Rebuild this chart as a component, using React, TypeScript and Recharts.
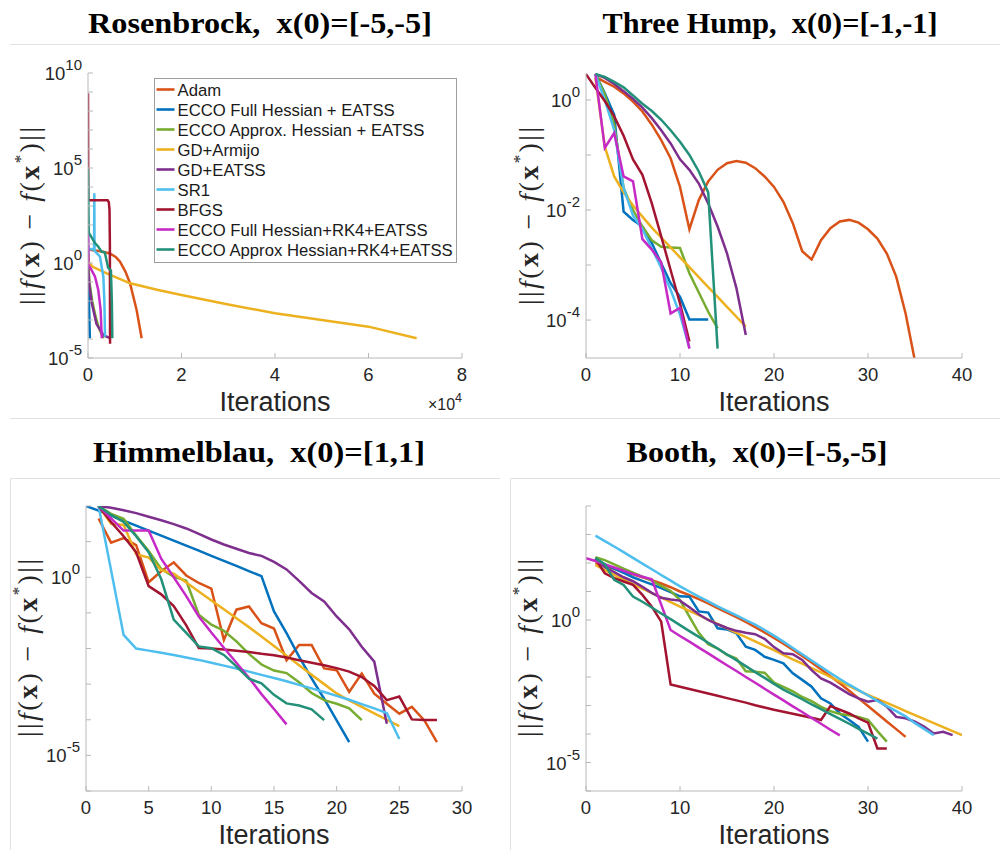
import { LineChart, Line, XAxis, YAxis, Legend } from 'recharts'

const SANS = '"Liberation Sans", Arial, Helvetica, sans-serif'
const SERIF = '"Liberation Serif", "Times New Roman", serif'
const AXIS = '#b8b8b8'
const INK = '#262626'

const methods = [
  'Adam',
  'ECCO Full Hessian + EATSS',
  'ECCO Approx. Hessian + EATSS',
  'GD+Armijo',
  'GD+EATSS',
  'SR1',
  'BFGS',
  'ECCO Full Hessian+RK4+EATSS',
  'ECCO Approx Hessian+RK4+EATSS',
]
const colors = ['#D95319', '#0072BD', '#77AC30', '#EDB120', '#7E2F8E', '#4DBEEE', '#A2142F', '#C62AC6', '#23907A']

// all error values below are log10 of ||f(x) - f(x*)||

// Rosenbrock: long runs, so iterations are listed explicitly (sparse samples)
const rosenIters = [
  [0, 800, 3000, 4700, 6000, 6850, 8000, 9000, 10400, 11480],
  [0, 100, 250, 400],
  [0, 300, 900, 1600, 2300, 3000, 3300],
  [0, 100, 1000, 4000, 9000, 15000, 20000, 30000, 40000, 50000, 60000, 70300],
  [0, 300, 800, 1800, 3300, 4700],
  [0, 1300, 1350, 1400, 2570, 3280, 3500, 3640],
  [0, 50, 4200, 4450, 4600, 4680, 4720],
  [0, 100, 600, 1500, 2200, 2700, 2950],
  [0, 150, 1500, 2200, 2900, 3600, 4300, 4900, 5100, 5200],
]
const rosenLogs = [
  [0.75, 0.68, 0.6, 0.5, 0.3, 0.07, -0.45, -1.07, -2.47, -3.96],
  [1.5, -0.5, -2.5, -3.96],
  [0.4, -1.0, -2.0, -2.8, -3.4, -3.8, -3.96],
  [0.5, 0.05, -0.2, -0.55, -1.07, -1.42, -1.68, -2.18, -2.65, -3.0, -3.35, -3.96],
  [-0.2, -1.2, -2.1, -3.2, -3.8, -3.96],
  [0.77, 0.7, 3.67, 0.65, 0.33, -0.72, -2.0, -3.88],
  [8.93, 3.3, 3.3, 3.2, 2.8, 1.0, -4.25],
  [2.0, -0.1, -0.3, -0.72, -1.42, -2.47, -3.96],
  [4.95, 1.6, 1.05, 0.86, 0.6, 0.55, -0.25, -0.4, -2.0, -3.96],
]

// Three Hump: first iteration index of each run, then one value per iteration
const humpStart = [1, 1, 1, 1, 1, 1, 0, 1, 1]
const humpLogs = [
  [0.42, 0.33, 0.24, 0.12, -0.03, -0.21, -0.45, -0.73, -1.06, -1.58, -2.35, -1.82, -1.48, -1.27, -1.15, -1.11, -1.14, -1.24, -1.39, -1.58, -1.85, -2.24, -2.75, -2.9, -2.55, -2.33, -2.21, -2.18, -2.23, -2.35, -2.52, -2.79, -3.21, -3.88, -4.75],
  [0.47, 0.12, -0.27, -2.03, -2.18, -2.3, -2.6, -2.97, -3.33, -3.58, -3.99, -3.99, -3.99],
  [0.47, 0.1, -0.45, -1.6, -2.0, -2.3, -2.55, -2.67, -2.68, -2.69, -3.15, -3.5, -3.85, -4.15],
  [0.4, -0.85, -1.39, -1.68, -1.92, -2.12, -2.32, -2.5, -2.68, -2.86, -3.04, -3.22, -3.4, -3.58, -3.76, -3.94, -4.12],
  [0.47, 0.4, 0.29, 0.16, 0.02, -0.14, -0.33, -0.55, -0.79, -1.08, -1.27, -1.52, -1.88, -2.3, -2.79, -3.42, -4.27],
  [0.47, 0.0, -0.55, -1.6, -2.1, -2.35, -2.7, -3.05, -3.45, -3.9, -4.5],
  [0.47, 0.22, -0.02, -0.3, -0.65, -1.08, -1.36, -1.88, -2.48, -3.09, -3.7, -4.39],
  [0.47, -0.87, -0.6, -1.39, -1.48, -2.53, -2.72, -2.95, -3.88, -3.78, -4.52],
  [0.47, 0.42, 0.33, 0.23, 0.08, -0.07, -0.2, -0.36, -0.55, -0.76, -1.0, -1.3, -1.68, -4.52],
]

// Himmelblau
const himStart = [1, 0, 1, 1, 1, 1, 1, 1, 1]
const himLogs = [
  [1.65, 0.97, 1.1, 0.9, -0.14, 0.17, 0.42, 0.05, -0.16, -0.32, -1.76, -0.91, -0.82, -1.29, -1.44, -2.33, -1.9, -1.9, -2.56, -2.61, -3.22, -2.7, -3.27, -3.55, -3.83, -3.64, -4.02, -4.63],
  [2.0, 1.87, 1.73, 1.59, 1.45, 1.31, 1.17, 1.03, 0.89, 0.75, 0.6, 0.46, 0.32, 0.17, 0.03, -0.96, -1.57, -2.23, -2.84, -3.41, -4.02, -4.63],
  [2.0, 1.78, 1.64, 1.17, 0.74, 0.23, 0.02, -0.1, -1.05, -1.33, -1.5, -1.8, -2.15, -2.45, -2.62, -2.69, -2.95, -3.25, -3.45, -3.55, -3.68, -4.01],
  [2.0, 1.5, 1.47, 0.65, 0.55, 0.2, 0.1, -0.15, -0.4, -0.65, -0.9, -1.15, -1.4, -1.66, -1.93, -2.2, -2.47, -2.74, -3.0, -3.26, -3.46, -3.64, -3.82, -4.0, -4.18],
  [2.0, 1.95, 1.88, 1.8, 1.7, 1.6, 1.49, 1.37, 1.22, 1.06, 0.92, 0.8, 0.68, 0.6, 0.43, 0.22, -0.1, -0.44, -0.68, -1.1, -1.46, -1.95, -2.37, -4.11],
  [2.0, 0.2, -1.62, -2.0, -2.06, -2.12, -2.18, -2.25, -2.32, -2.4, -2.48, -2.56, -2.65, -2.74, -2.83, -2.92, -3.02, -3.12, -3.22, -3.33, -3.44, -3.56, -3.68, -3.81, -4.54],
  [2.0, 1.55, 1.15, 0.7, -0.25, -0.48, -0.81, -1.35, -1.99, -2.0, -2.03, -2.06, -2.1, -2.15, -2.19, -2.25, -2.33, -2.4, -2.47, -2.55, -2.65, -2.8, -3.05, -3.45, -3.35, -3.99, -4.01, -4.01],
  [2.0, 1.65, 1.31, 1.31, 1.31, 0.52, 0.0, -0.53, -1.1, -1.55, -1.98, -2.4, -2.82, -3.28, -3.7, -4.13],
  [2.0, 1.75, 1.55, 1.15, 0.7, -0.05, -1.19, -1.56, -1.94, -1.99, -2.18, -2.5, -2.85, -2.98, -3.3, -3.54, -3.6, -3.71, -4.01],
]

// Booth
const boothStart = [1, 1, 1, 1, 1, 1, 1, 0, 1]
const boothLogs = [
  [2.0, 1.9, 1.8, 1.7, 1.6, 1.5, 1.4, 1.28, 1.15, 1.0, 0.87, 0.73, 0.58, 0.42, 0.26, 0.1, -0.07, -0.25, -0.44, -0.63, -0.83, -1.04, -1.26, -1.49, -1.73, -1.97, -2.22, -2.48, -2.75, -3.02, -3.29, -3.56, -3.83, -4.1],
  [2.17, 1.95, 1.8, 1.65, 1.5, 1.37, 1.25, 1.12, 0.98, 0.83, 0.82, 0.3, 0.26, -0.29, -0.33, -0.47, -0.94, -1.05, -1.29, -1.4, -1.52, -1.87, -2.1, -2.34, -2.75, -2.93, -3.28, -3.51, -3.75, -4.27],
  [2.2, 2.1, 1.95, 1.8, 1.66, 1.52, 1.38, 1.2, 1.02, 0.7, 0.12, -0.45, -0.85, -1.0, -1.22, -1.35, -1.8, -1.82, -1.85, -2.2, -2.35, -2.5, -2.7, -2.85, -3.05, -3.2, -3.3, -3.34, -3.4, -3.5, -3.9, -4.27],
  [1.93, 1.75, 1.58, 1.42, 1.26, 1.1, 0.94, 0.79, 0.63, 0.47, 0.32, 0.17, 0.01, -0.14, -0.29, -0.45, -0.6, -0.75, -0.91, -1.06, -1.22, -1.38, -1.53, -1.69, -1.84, -2.0, -2.16, -2.32, -2.48, -2.63, -2.77, -2.91, -3.05, -3.2, -3.34, -3.48, -3.62, -3.76, -3.9, -4.04],
  [2.17, 1.85, 1.68, 1.5, 1.36, 1.16, 0.95, 0.78, 0.72, 0.68, 0.45, 0.2, 0.0, -0.15, -0.28, -0.38, -0.45, -0.5, -0.66, -0.95, -1.17, -1.2, -1.4, -1.76, -2.05, -2.2, -2.4, -2.6, -2.75, -2.87, -2.81, -3.04, -3.4, -3.45, -3.57, -3.75, -3.98, -3.92, -4.04],
  [2.96, 2.77, 2.58, 2.38, 2.18, 1.98, 1.78, 1.58, 1.38, 1.18, 1.0, 0.82, 0.65, 0.48, 0.32, 0.16, 0.0, -0.16, -0.35, -0.55, -0.76, -0.98, -1.2, -1.42, -1.64, -1.86, -2.07, -2.27, -2.46, -2.65, -2.84, -3.02, -3.2, -3.38, -3.62, -3.83, -4.04],
  [2.15, 1.64, 1.47, 1.35, 1.23, 0.88, 0.47, -0.06, -2.26, -2.34, -2.42, -2.5, -2.58, -2.66, -2.74, -2.82, -2.9, -2.99, -3.07, -3.15, -3.22, -3.29, -3.36, -3.43, -3.51, -3.02, -3.15, -3.28, -3.45, -3.6, -4.51, -4.51],
  [2.17, 2.07, 1.95, 1.84, 1.73, 1.62, 1.52, 1.43, 0.54, -0.35, -0.56, -0.76, -0.97, -1.17, -1.38, -1.59, -1.79, -2.0, -2.2, -2.41, -2.62, -2.82, -3.03, -3.23, -3.44, -3.64, -3.85, -4.05],
  [2.17, 1.95, 1.41, 1.23, 0.82, 0.64, 0.44, 0.23, 0.03, -0.18, -0.39, -0.59, -0.8, -1.0, -1.21, -1.41, -1.62, -1.83, -2.03, -2.24, -2.44, -2.61, -2.78, -2.96, -3.13, -3.3, -3.47, -3.64, -3.82, -3.99, -4.16],
]

// axis ticks (x in iterations, y as decade exponents)
const rosenXTicks = [0, 20000, 40000, 60000, 80000]
const rosenYTicks = [-5, -4, -3, -2, -1, 0, 1, 2, 3, 4, 5, 6, 7, 8, 9, 10]
const rosenYLabels = [-5, 0, 5, 10]
const humpXTicks = [0, 10, 20, 30, 40]
const humpYTicks = [-4, -3, -2, -1, 0]
const humpYLabels = [-4, -2, 0]
const himXTicks = [0, 5, 10, 15, 20, 25, 30]
const himYTicks = [-6, -5, -4, -3, -2, -1, 0, 1, 2]
const boothXTicks = [0, 10, 20, 30, 40]
const boothYTicks = [-6, -5, -4, -3, -2, -1, 0, 1, 2, 3, 4]
const lowerYLabels = [-5, 0]

type Pt = { x: number; y: number }

const withIters = (iters: number[], logs: number[]): Pt[] => logs.map((e, i) => ({ x: iters[i], y: 10 ** e }))
const fromStart = (start: number, logs: number[]): Pt[] => logs.map((e, i) => ({ x: start + i, y: 10 ** e }))

const renderXTick = (fmt: (v: number) => string) => (p: any) => (
  <text x={p.x} y={p.y + 18} textAnchor="middle" fontSize={18.5} fontFamily={SANS} fill={INK}>
    {fmt(p.payload.value)}
  </text>
)

const renderYTick = (labelled: number[]) => (p: any) => {
  const e = Math.round(Math.log10(p.payload.value))
  if (!labelled.includes(e)) return <g />
  return (
    <text x={p.x} y={p.y} textAnchor="end" fontFamily={SANS} fill={INK}>
      <tspan fontSize={18.5} dy={7}>10</tspan>
      <tspan fontSize={15} dy={-10}>{e}</tspan>
    </text>
  )
}

function RosenLegend() {
  return (
    <svg width={303} height={185} style={{ display: 'block' }}>
      <rect x={0.5} y={0.5} width={302} height={184} fill="#fff" stroke="#9e9e9e" />
      {methods.map((m, k) => (
        <g key={m}>
          <line x1={2.5} x2={20.5} y1={11.5 + 20 * k} y2={11.5 + 20 * k} stroke={colors[k]} strokeWidth={2.6} />
          <text x={23.5} y={17.5 + 20 * k} fontSize={16.7} fontFamily={SANS} fill="#1a1a1a">
            {m}
          </text>
        </g>
      ))}
    </svg>
  )
}

interface PanelProps {
  left: number
  top: number
  margin: { top: number; right: number; bottom: number; left: number }
  series: Pt[][]
  xMax: number
  xTicks: number[]
  xFormat: (v: number) => string
  yMin: number
  yMax: number
  yTicks: number[]
  yLabels: number[]
  legend?: boolean
}

function ConvergencePanel(props: PanelProps) {
  const { left, top, margin, series, xMax, xTicks, xFormat, yMin, yMax, yTicks, yLabels, legend } = props
  const yDomain = [10 ** yMin, 10 ** yMax]
  const yTickVals = yTicks.map((e) => 10 ** e)
  return (
    <div style={{ position: 'absolute', left, top }}>
      <LineChart width={500} height={370} margin={margin}>
        <XAxis
          xAxisId="b"
          dataKey="x"
          type="number"
          domain={[0, xMax]}
          ticks={xTicks}
          interval={0}
          allowDataOverflow
          height={30}
          stroke={AXIS}
          tickSize={-5}
          tickMargin={10}
          tick={renderXTick(xFormat)}
        />
        <XAxis
          xAxisId="t"
          orientation="top"
          dataKey="x"
          type="number"
          domain={[0, xMax]}
          ticks={xTicks}
          interval={0}
          allowDataOverflow
          height={0}
          stroke={AXIS}
          tickSize={-5}
          tick={false}
        />
        <YAxis
          yAxisId="l"
          type="number"
          scale="log"
          domain={yDomain}
          ticks={yTickVals}
          interval={0}
          allowDataOverflow
          width={60}
          stroke={AXIS}
          tickSize={-5}
          tickMargin={11}
          tick={renderYTick(yLabels)}
        />
        <YAxis
          yAxisId="r"
          orientation="right"
          type="number"
          scale="log"
          domain={yDomain}
          ticks={yTickVals}
          interval={0}
          allowDataOverflow
          width={0}
          stroke={AXIS}
          tickSize={-5}
          tick={false}
        />
        {series.map((pts, k) => (
          <Line
            key={methods[k]}
            xAxisId="b"
            yAxisId="l"
            data={pts}
            dataKey="y"
            name={methods[k]}
            type="linear"
            stroke={colors[k]}
            strokeWidth={2.5}
            dot={false}
            activeDot={false}
            isAnimationActive={false}
          />
        ))}
        {legend && (
          <Legend
            layout="vertical"
            align="center"
            verticalAlign="middle"
            content={<RosenLegend />}
            wrapperStyle={{ left: 154, top: 28, width: 303, height: 185 }}
          />
        )}
      </LineChart>
    </div>
  )
}

function ErrorLabel({ cx, cy }: { cx: number; cy: number }) {
  return (
    <text
      x={cx}
      y={cy}
      transform={`rotate(-90 ${cx} ${cy})`}
      textAnchor="middle"
      dominantBaseline="central"
      fontFamily={SERIF}
      fontSize={28}
      fill={INK}
      textLength={178}
      lengthAdjust="spacing"
    >
      <tspan>||</tspan>
      <tspan fontStyle="italic">f</tspan>
      <tspan>(</tspan>
      <tspan fontWeight="bold">x</tspan>
      <tspan>) − </tspan>
      <tspan fontStyle="italic">f</tspan>
      <tspan>(</tspan>
      <tspan fontWeight="bold">x</tspan>
      <tspan fontSize={17} dy={-9}>*</tspan>
      <tspan dy={9}>)||</tspan>
    </text>
  )
}

function Title({ x, y, w, children }: { x: number; y: number; w: number; children: string }) {
  return (
    <text x={x} y={y} textAnchor="middle" fontFamily={SERIF} fontWeight="bold" fontSize={30} fill="#000" textLength={w} lengthAdjust="spacingAndGlyphs">
      {children}
    </text>
  )
}

function IterLabel({ x, y }: { x: number; y: number }) {
  return (
    <text x={x} y={y} textAnchor="middle" fontFamily={SANS} fontSize={27} fill={INK}>
      Iterations
    </text>
  )
}

export default function App() {
  const topMargin = { top: 23, right: 38, bottom: 32, left: 28 }
  const topRightMargin = { top: 23, right: 38, bottom: 32, left: 26 }
  const lowMargin = { top: 26, right: 38, bottom: 29, left: 26 }
  return (
    <div style={{ position: 'absolute', left: 0, top: 0, width: 1000, height: 850, background: '#fff', overflow: 'hidden' }}>
      <ConvergencePanel
        left={0}
        top={50}
        margin={topMargin}
        series={rosenLogs.map((l, k) => withIters(rosenIters[k], l))}
        xMax={80000}
        xTicks={rosenXTicks}
        xFormat={(v) => String(v / 10000)}
        yMin={-5}
        yMax={10}
        yTicks={rosenYTicks}
        yLabels={rosenYLabels}
        legend
      />
      <ConvergencePanel
        left={500}
        top={50}
        margin={topRightMargin}
        series={humpLogs.map((l, k) => fromStart(humpStart[k], l))}
        xMax={40}
        xTicks={humpXTicks}
        xFormat={(v) => String(v)}
        yMin={-4.69}
        yMax={0.49}
        yTicks={humpYTicks}
        yLabels={humpYLabels}
      />
      <ConvergencePanel
        left={0}
        top={480}
        margin={lowMargin}
        series={himLogs.map((l, k) => fromStart(himStart[k], l))}
        xMax={30}
        xTicks={himXTicks}
        xFormat={(v) => String(v)}
        yMin={-6}
        yMax={2}
        yTicks={himYTicks}
        yLabels={lowerYLabels}
      />
      <ConvergencePanel
        left={500}
        top={480}
        margin={lowMargin}
        series={boothLogs.map((l, k) => fromStart(boothStart[k], l))}
        xMax={40}
        xTicks={boothXTicks}
        xFormat={(v) => String(v)}
        yMin={-6}
        yMax={4}
        yTicks={boothYTicks}
        yLabels={lowerYLabels}
      />
      <svg width={1000} height={850} style={{ position: 'absolute', left: 0, top: 0, pointerEvents: 'none' }}>
        <line x1={10} x2={1000} y1={44.5} y2={44.5} stroke="#e2e2e2" />
        <line x1={10} x2={1000} y1={418.5} y2={418.5} stroke="#e2e2e2" />
        <polyline points="10.5,850 10.5,478.5 500,478.5" fill="none" stroke="#e2e2e2" />
        <polyline points="510.5,850 510.5,478.5 1000,478.5" fill="none" stroke="#e2e2e2" />
        <Title x={260} y={33} w={344}>{'Rosenbrock,\u00a0 x(0)=[-5,-5]'}</Title>
        <Title x={770} y={33} w={335}>{'Three Hump,\u00a0 x(0)=[-1,-1]'}</Title>
        <Title x={259} y={462} w={332}>{'Himmelblau,\u00a0 x(0)=[1,1]'}</Title>
        <Title x={757} y={462} w={261}>{'Booth,\u00a0 x(0)=[-5,-5]'}</Title>
        <ErrorLabel cx={29} cy={216} />
        <ErrorLabel cx={528} cy={216} />
        <ErrorLabel cx={27} cy={648} />
        <ErrorLabel cx={527} cy={648} />
        <IterLabel x={275} y={411} />
        <IterLabel x={774} y={411} />
        <IterLabel x={274} y={844} />
        <IterLabel x={774} y={844} />
        <text x={462} y={410} textAnchor="end" fontFamily={SANS} fill={INK}>
          <tspan fontSize={16}>×10</tspan>
          <tspan fontSize={12.5} dy={-8}>4</tspan>
        </text>
      </svg>
    </div>
  )
}
